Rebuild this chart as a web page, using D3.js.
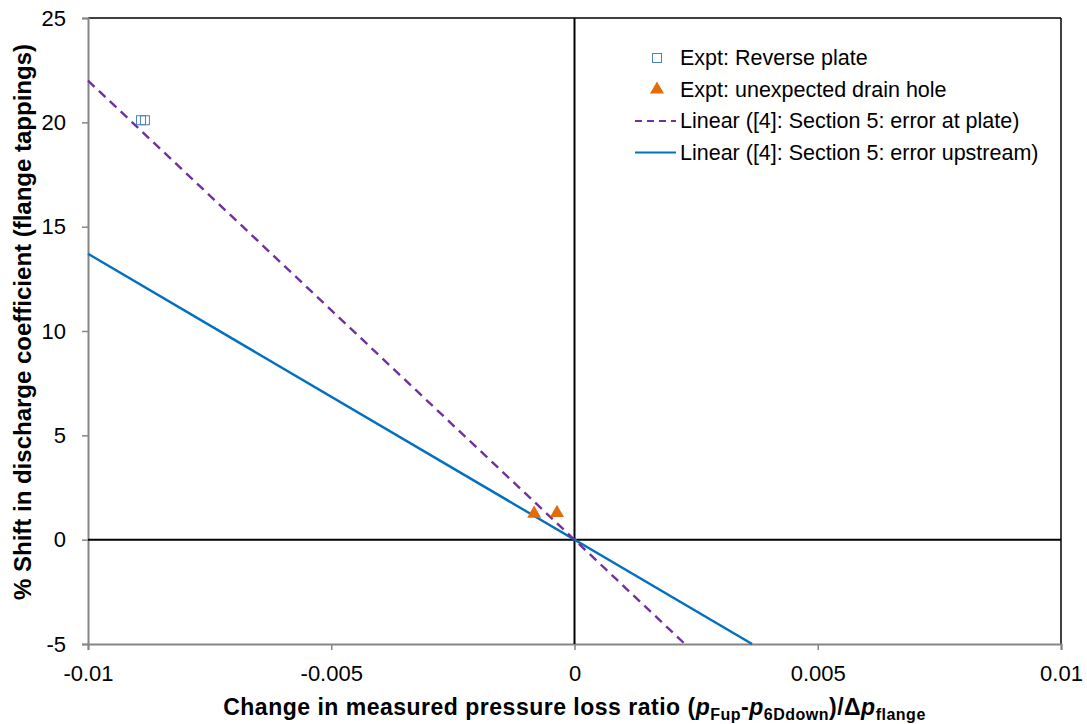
<!DOCTYPE html>
<html>
<head>
<meta charset="utf-8">
<script src="https://cdn.jsdelivr.net/npm/d3@7"></script>
<style>
  body { margin: 0; background: #fff; }
  text { font-family: "Liberation Sans", Arial, sans-serif; }
</style>
</head>
<body>
<div id="chart"></div>
<script>
// chart size
const width = 1087;
const height = 724;
const margin = { top: 18, right: 26, bottom: 80, left: 88 };

// data
const reversePlate = [[-0.00891, 20.1], [-0.00883, 20.1]];
const drainHole = [[-0.00083, 1.25], [-0.00036, 1.28]];
const fitPlate = [[-0.01, 22], [0.00227, -5]];        // Linear ([4]: error at plate)
const fitUpstream = [[-0.01, 13.7], [0.00365, -5]];   // Linear ([4]: error upstream)
const xTicks = [-0.01, -0.005, 0, 0.005, 0.01];
const yTicks = [-5, 0, 5, 10, 15, 20, 25];
const legendItems = [
  { label: "Expt: Reverse plate", type: "square" },
  { label: "Expt: unexpected drain hole", type: "triangle" },
  { label: "Linear ([4]: Section 5: error at plate)", type: "dash" },
  { label: "Linear ([4]: Section 5: error upstream)", type: "line" }
];

const purple = "#7030a0";
const blue = "#0070c0";
const orange = "#e36c09";
const squareCol = "#4f81bd";

const svg = d3.select("#chart").append("svg")
  .attr("width", width)
  .attr("height", height);

const x = d3.scaleLinear().domain([-0.01, 0.01]).range([margin.left, width - margin.right]);
const y = d3.scaleLinear().domain([-5, 25]).range([height - margin.bottom, margin.top]);

// plot frame: top/right black
svg.append("line").attr("x1", x(-0.01)).attr("x2", x(0.01)).attr("y1", y(25)).attr("y2", y(25))
  .attr("stroke", "#000").attr("stroke-width", 1.5);
svg.append("line").attr("x1", x(0.01)).attr("x2", x(0.01)).attr("y1", y(25)).attr("y2", y(-5))
  .attr("stroke", "#000").attr("stroke-width", 1.5);

// axes (gray), hyphen minus like the original
const fmtX = d => d === 0 ? "0" : String(+d.toFixed(3));
const xAxis = svg.append("g")
  .attr("transform", `translate(0,${y(-5)})`)
  .call(d3.axisBottom(x).tickValues(xTicks).tickSize(6).tickFormat(fmtX));
const yAxis = svg.append("g")
  .attr("transform", `translate(${x(-0.01)},0)`)
  .call(d3.axisLeft(y).tickValues(yTicks).tickSize(6).tickFormat(d => String(d)));

[xAxis, yAxis].forEach(g => {
  g.select(".domain").attr("stroke", "#868686").attr("stroke-width", 2);
  g.selectAll(".tick line").attr("stroke", "#868686").attr("stroke-width", 1.5);
  g.selectAll(".tick text").attr("fill", "#000").style("font-size", "22px")
    .style("font-family", "'Liberation Sans', Arial, sans-serif");
});
xAxis.selectAll(".tick text").attr("y", 21);
yAxis.selectAll(".tick text").attr("x", -22);

// zero lines
svg.append("line").attr("x1", x(0)).attr("x2", x(0)).attr("y1", y(25)).attr("y2", y(-5))
  .attr("stroke", "#000").attr("stroke-width", 2);
svg.append("line").attr("x1", x(-0.01)).attr("x2", x(0.01)).attr("y1", y(0)).attr("y2", y(0))
  .attr("stroke", "#000").attr("stroke-width", 2);

// fit lines
const line = d3.line().x(d => x(d[0])).y(d => y(d[1]));
svg.append("path").datum(fitUpstream).attr("d", line)
  .attr("fill", "none").attr("stroke", blue).attr("stroke-width", 2.4);
svg.append("path").datum(fitPlate).attr("d", line)
  .attr("fill", "none").attr("stroke", purple).attr("stroke-width", 2.4)
  .attr("stroke-dasharray", "9,6");

// markers
svg.selectAll(".sq").data(reversePlate).enter().append("rect")
  .attr("x", d => x(d[0]) - 4.5).attr("y", d => y(d[1]) - 4.5)
  .attr("width", 9).attr("height", 9)
  .attr("fill", "none").attr("stroke", squareCol).attr("stroke-width", 1);

const tri = d3.symbol().type(d3.symbolTriangle).size(85);
svg.selectAll(".tri").data(drainHole).enter().append("path")
  .attr("d", tri)
  .attr("transform", d => `translate(${x(d[0])},${y(d[1])})`)
  .attr("fill", orange);

// legend
const lg = svg.append("g").attr("transform", "translate(657,58)");
legendItems.forEach((item, i) => {
  const row = lg.append("g").attr("transform", `translate(0,${i * 31.5})`);
  if (item.type === "square") {
    row.append("rect").attr("x", -4.5).attr("y", -4.5).attr("width", 9).attr("height", 9)
      .attr("fill", "none").attr("stroke", squareCol);
  } else if (item.type === "triangle") {
    row.append("path").attr("d", tri).attr("fill", orange);
  } else {
    row.append("line").attr("x1", -22).attr("x2", 19).attr("y1", 0).attr("y2", 0)
      .attr("stroke", item.type === "dash" ? purple : blue).attr("stroke-width", 2)
      .attr("stroke-dasharray", item.type === "dash" ? "7,5" : null);
  }
  row.append("text").attr("x", 23).attr("y", 7).text(item.label)
    .style("font-size", "21.5px").attr("fill", "#000");
});

// axis titles
svg.append("text")
  .attr("transform", "translate(31,322) rotate(-90)")
  .attr("text-anchor", "middle")
  .style("font-size", "24px").style("font-weight", "bold")
  .text("% Shift in discharge coefficient (flange tappings)");

const xt = svg.append("text")
  .attr("x", x(0)).attr("y", 715)
  .attr("text-anchor", "middle")
  .style("font-size", "23px").style("font-weight", "bold")
  .style("letter-spacing", "0.5px");
xt.append("tspan").text("Change in measured pressure loss ratio (");
xt.append("tspan").style("font-style", "italic").text("p");
xt.append("tspan").attr("dy", 5).style("font-size", "16px").text("Fup");
xt.append("tspan").attr("dy", -5).text("-");
xt.append("tspan").style("font-style", "italic").text("p");
xt.append("tspan").attr("dy", 5).style("font-size", "16px").text("6Ddown");
xt.append("tspan").attr("dy", -5).text(")/Δ");
xt.append("tspan").style("font-style", "italic").text("p");
xt.append("tspan").attr("dy", 5).style("font-size", "16px").text("flange");
</script>
</body>
</html>
